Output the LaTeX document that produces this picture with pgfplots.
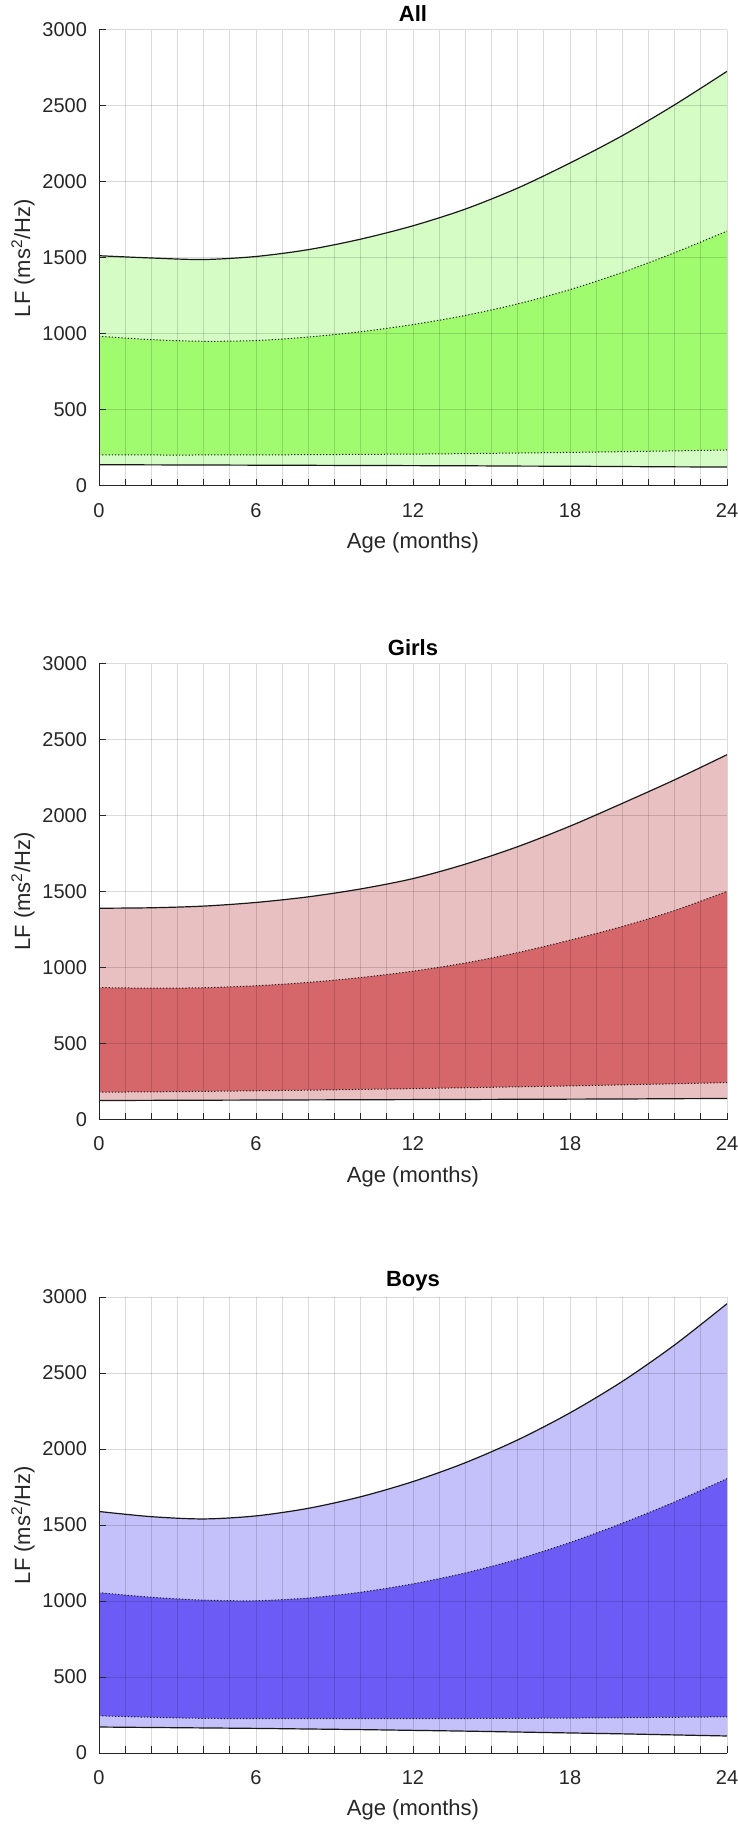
\documentclass[border=0pt]{standalone}
\usepackage{pgfplots}
\pgfplotsset{compat=1.18}
\usepackage{pgfplotstable}
\usepgfplotslibrary{fillbetween}
\usepackage{fontspec}
\setmainfont{Liberation Sans}

\definecolor{gLight}{RGB}{213,252,197}
\definecolor{gDark}{RGB}{160,252,110}
\definecolor{rLight}{RGB}{233,192,194}
\definecolor{rDark}{RGB}{213,102,106}
\definecolor{bLight}{RGB}{196,192,249}
\definecolor{bDark}{RGB}{108,92,245}

% month, outer upper, inner upper, inner lower, outer lower
\pgfplotstableread{
m ou iu il ol
0 1515 985 205 140
2 1500 963 204 139
4 1490 952 204 138
6 1510 957 205 137
8 1555 980 206 136
10 1624 1015 208 135
12 1712 1062 210 134
14 1822 1122 213 133
16 1960 1198 217 131
18 2125 1292 221 130
20 2305 1405 226 128
22 2508 1535 231 126
24 2728 1677 237 125
}\alltab

\pgfplotstableread{
m ou iu il ol
0 1390 868 180 125
2 1393 864 182 126
4 1404 867 185 127
6 1428 880 189 128
8 1465 902 193 129
10 1517 934 198 130
12 1585 976 203 131
14 1680 1030 209 132
16 1795 1098 215 133
18 1930 1180 221 134
20 2080 1270 228 135
22 2235 1375 235 137
24 2400 1501 243 138
}\girlstab

\pgfplotstableread{
m ou iu il ol
0 1589 1055 245 171
2 1555 1025 235 168
4 1540 1006 228 165
6 1560 1002 226 162
8 1610 1020 226 158
10 1686 1058 226 154
12 1786 1113 226 149
14 1910 1185 227 144
16 2060 1275 228 138
18 2238 1385 230 132
20 2445 1512 232 126
22 2685 1652 235 119
24 2956 1805 238 112
}\boystab

\pgfplotsset{
  lfpanel/.style={
    scale only axis, width=314pt, height=228pt,
    anchor=north west,
    xmin=0, xmax=24, ymin=0, ymax=3000,
    xtick={0,6,12,18,24},
    minor xtick={1,2,3,4,5,7,8,9,10,11,13,14,15,16,17,19,20,21,22,23},
    ytick={0,500,...,3000},
    axis x line*=bottom, axis y line*=left,
    axis line style={black!85, line width=0.5pt},
    tick align=inside, major tick length=3.5pt, minor tick length=3.5pt,
    tick style={black!85, line width=0.5pt},
    grid=both,
    major grid style={black, line width=0.5pt, opacity=0.14},
    minor grid style={black, line width=0.5pt, opacity=0.14},
    axis on top,
    /pgf/number format/assume math mode=true,
    /pgf/number format/1000 sep={},
    tick label style={font=\fontsize{10}{12}\selectfont, text=black!85},
    xticklabel style={yshift=-5pt},
    yticklabel style={xshift=-2.5pt},
    xlabel={Age (months)},
    ylabel={LF (ms\textsuperscript{2}/Hz)},
    label style={font=\fontsize{11}{13}\selectfont, text=black!85},
    xlabel style={at={(axis description cs:0.5,0)}, anchor=center, yshift=-28.5pt},
    ylabel style={at={(axis description cs:-0.121,0.5)}, anchor=center},
    title style={at={(axis description cs:0.5,1)}, anchor=center, yshift=2pt,
      font=\fontsize{11}{13}\selectfont\bfseries},
  },
  outline/.style={black!90, line width=0.6pt, smooth},
  inline/.style={black!90, line width=0.5pt, smooth, dash pattern=on 0.6pt off 1pt},
}

\begin{document}
\begin{tikzpicture}
\begin{axis}[lfpanel, at={(0pt,0pt)}, title={All}]
\addplot[name path=ouA, draw=none, smooth] table[x=m, y=ou] {\alltab};
\addplot[name path=olA, draw=none, smooth] table[x=m, y=ol] {\alltab};
\addplot[name path=iuA, draw=none, smooth] table[x=m, y=iu] {\alltab};
\addplot[name path=ilA, draw=none, smooth] table[x=m, y=il] {\alltab};
\addplot[gLight] fill between[of=ouA and olA];
\addplot[gDark] fill between[of=iuA and ilA];
\addplot[outline] table[x=m, y=ou] {\alltab};
\addplot[outline] table[x=m, y=ol] {\alltab};
\addplot[inline] table[x=m, y=iu] {\alltab};
\addplot[inline] table[x=m, y=il] {\alltab};
\end{axis}

\begin{axis}[lfpanel, at={(0pt,-316.75pt)}, title={Girls}]
\addplot[name path=ouG, draw=none, smooth] table[x=m, y=ou] {\girlstab};
\addplot[name path=olG, draw=none, smooth] table[x=m, y=ol] {\girlstab};
\addplot[name path=iuG, draw=none, smooth] table[x=m, y=iu] {\girlstab};
\addplot[name path=ilG, draw=none, smooth] table[x=m, y=il] {\girlstab};
\addplot[rLight] fill between[of=ouG and olG];
\addplot[rDark] fill between[of=iuG and ilG];
\addplot[outline] table[x=m, y=ou] {\girlstab};
\addplot[outline] table[x=m, y=ol] {\girlstab};
\addplot[inline] table[x=m, y=iu] {\girlstab};
\addplot[inline] table[x=m, y=il] {\girlstab};
\end{axis}

\begin{axis}[lfpanel, at={(0pt,-633.5pt)}, title={Boys}]
\addplot[name path=ouB, draw=none, smooth] table[x=m, y=ou] {\boystab};
\addplot[name path=olB, draw=none, smooth] table[x=m, y=ol] {\boystab};
\addplot[name path=iuB, draw=none, smooth] table[x=m, y=iu] {\boystab};
\addplot[name path=ilB, draw=none, smooth] table[x=m, y=il] {\boystab};
\addplot[bLight] fill between[of=ouB and olB];
\addplot[bDark] fill between[of=iuB and ilB];
\addplot[outline] table[x=m, y=ou] {\boystab};
\addplot[outline] table[x=m, y=ol] {\boystab};
\addplot[inline] table[x=m, y=iu] {\boystab};
\addplot[inline] table[x=m, y=il] {\boystab};
\end{axis}

\pgfresetboundingbox
\path[use as bounding box] (-49.5pt,-899.5pt) rectangle (319.5pt,15pt);
\end{tikzpicture}
\end{document}
